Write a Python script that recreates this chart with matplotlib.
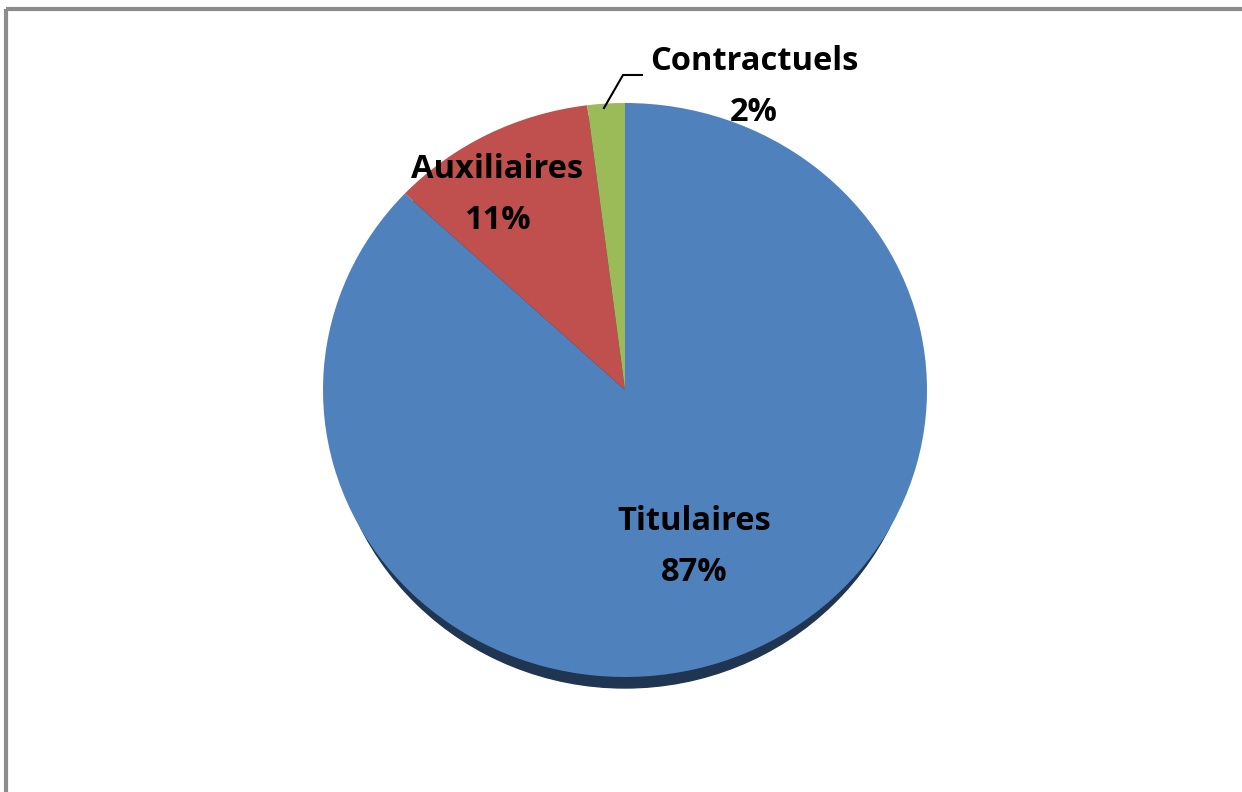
import matplotlib
matplotlib.use("Agg")
from matplotlib import pyplot as plt
from matplotlib.patches import Ellipse

labels = ["Titulaires", "Auxiliaires", "Contractuels"]
values = [87, 11, 2]
colors = ["#4F81BD", "#C0504D", "#9BBB59"]

W, H = 1242, 792
fig = plt.figure(figsize=(W / 100, H / 100), dpi=100)

# pie axes, slightly squashed like the excel 3d pie
cx, cy, rx, ry = 625, 390, 302, 287
pax = fig.add_axes([(cx - rx) / W, (H - cy - ry) / H, 2 * rx / W, 2 * ry / H])
pax.add_patch(Ellipse((0, -11 / ry), 2 * 0.975, 2, color="#1F3552",
                      zorder=0, clip_on=False))
wedges, _ = pax.pie(values, colors=colors, startangle=90, counterclock=False,
                    wedgeprops=dict(linewidth=0), radius=1)
for w in wedges:
    w.set_clip_on(False)
pax.set_aspect("auto")
pax.set_xlim(-1, 1)
pax.set_ylim(-1, 1)
pax.axis("off")

# pixel axes on top for frame, labels and leader line
ax = fig.add_axes([0, 0, 1, 1])
ax.set_zorder(5)
ax.patch.set_alpha(0)
ax.set_xlim(0, W)
ax.set_ylim(H, 0)
ax.axis("off")

# frame (only top and left visible)
ax.plot([5.5, W], [8.5, 8.5], color="#8C8C8C", lw=3, solid_capstyle="butt")
ax.plot([5.5, 5.5], [8.5, H], color="#8C8C8C", lw=3, solid_capstyle="butt")

font = dict(family=["Open Sans", "DejaVu Sans"], fontweight="bold", fontsize=23.5,
            ha="center", va="center", linespacing=1.7)
pcts = [f"{v}%" for v in values]
ax.text(694, 547, labels[0] + "\n" + pcts[0], **font)
ax.text(497, 195, labels[1] + "\n" + pcts[1], **font)
ax.text(754, 87, labels[2] + "\n" + pcts[2], **font)

# leader line for the small slice
ax.plot([604, 623, 642], [108, 75, 75], color="black", lw=1.5)

fig.savefig("out.png", dpi=100)
